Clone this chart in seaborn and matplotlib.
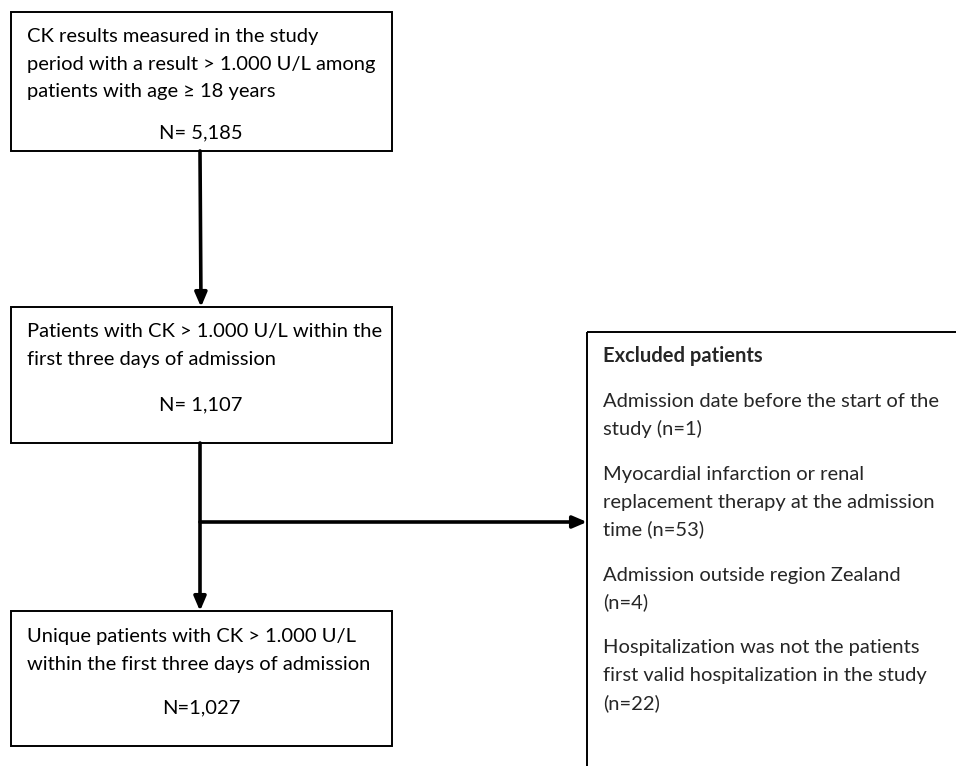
import matplotlib
matplotlib.use('Agg')
import matplotlib.pyplot as plt
from matplotlib.patches import Rectangle
import seaborn as sns

# flowchart content
box_lines = [
    ['CK results measured in the study',
     'period with a result > 1.000 U/L among',
     'patients with age \u2265 18 years'],
    ['Patients with CK > 1.000 U/L within the',
     'first three days of admission'],
    ['Unique patients with CK > 1.000 U/L',
     'within the first three days of admission'],
]
box_counts = ['N= 5,185', 'N= 1,107', 'N=1,027']
excluded_title = 'Excluded patients'
excluded_items = [
    ['Admission date before the start of the', 'study (n=1)'],
    ['Myocardial infarction or renal', 'replacement therapy at the admission', 'time (n=53)'],
    ['Admission outside region Zealand', '(n=4)'],
    ['Hospitalization was not the patients', 'first valid hospitalization in the study', '(n=22)'],
]

sns.set_theme(style='white')
plt.rcParams['font.family'] = ['Lato', 'DejaVu Sans']

fig = plt.figure(figsize=(9.56, 7.66), dpi=100)
ax = fig.add_axes([0, 0, 1, 1])
ax.set_xlim(0, 956)
ax.set_ylim(766, 0)
ax.axis('off')

fs = 14.5
lh = 27.7

# left column boxes: (top, bottom, first baseline, count baseline)
boxes = [(12, 151, 42, 138), (307, 443, 337, 410), (611, 746, 642, 713)]
for (top, bot, y0, yn), lines, n in zip(boxes, box_lines, box_counts):
    ax.add_patch(Rectangle((11, top), 381, bot - top, fill=False, lw=1.4, ec='black'))
    for i, t in enumerate(lines):
        ax.text(27, y0 + i * lh, t, fontsize=fs, va='baseline', ha='left', color='black')
    ax.text(201, yn, n, fontsize=fs, va='baseline', ha='center', color='black')

# excluded box (runs off the right and bottom edge)
ax.add_patch(Rectangle((587, 332), 400, 480, fill=False, lw=1.4, ec='black'))
ax.text(603, 362, excluded_title, fontsize=fs, fontweight='bold', va='baseline', ha='left')
y = 407
for item in excluded_items:
    for t in item:
        ax.text(603, y, t, fontsize=fs, va='baseline', ha='left')
        y += lh
    y += 17.5

arrow = dict(arrowstyle='-|>,head_length=0.7,head_width=0.3', lw=2.6, color='black',
             shrinkA=0, shrinkB=0)
ax.annotate('', xy=(201, 307), xytext=(200, 151), arrowprops=arrow)
ax.annotate('', xy=(200, 611), xytext=(200, 443), arrowprops=arrow)
ax.annotate('', xy=(587, 522), xytext=(200, 522), arrowprops=arrow)

fig.savefig('out.png', dpi=100, facecolor='white')
